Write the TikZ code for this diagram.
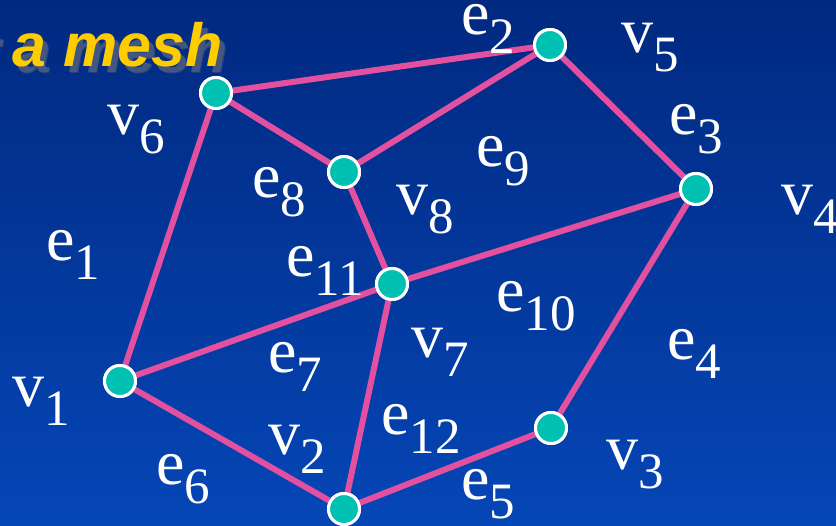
\documentclass[tikz,border=0pt]{standalone}
\usepackage{fontspec}
\setmainfont{Liberation Serif}
\newfontfamily\titlefont{Liberation Sans}
\definecolor{bgtop}{RGB}{1,41,128}
\definecolor{bgbot}{RGB}{5,70,182}
\definecolor{edgepink}{RGB}{228,80,160}
\definecolor{nodeteal}{RGB}{0,192,178}
\definecolor{titleyellow}{RGB}{255,204,0}
\newcommand\lbl[2]{\fontsize{64}{64}\selectfont #1\raisebox{-19pt}{\fontsize{51}{51}\selectfont #2}}
\begin{document}
\begin{tikzpicture}[x=1pt,y=-1pt,
  vert/.style={circle,fill=nodeteal,draw=white,line width=3pt,minimum size=31pt,inner sep=0pt},
  edge/.style={draw=edgepink,line width=6pt},
  lab/.style={anchor=base west,inner sep=0pt,text=white},
  ttl/.style={anchor=base west,inner sep=0pt,font=\titlefont\bfseries\itshape\fontsize{61}{61}\selectfont}]
\useasboundingbox (0,0) rectangle (836,526);
\shade[top color=bgtop,bottom color=bgbot] (0,0) rectangle (836,526);
% title with shadow
\node[ttl,text=gray!55!bgtop,opacity=0.45] (tshadow2) at (-22,74) {r a mesh};
\node[ttl,text=gray!65!bgtop,opacity=0.7] (tshadow) at (-23,73) {r a mesh};
\node[ttl,text=titleyellow] (title) at (-28,67) {r a mesh};
% vertices
\node[vert] (v6) at (216,93) {};
\node[vert] (v5) at (550,45) {};
\node[vert] (v8) at (344,172) {};
\node[vert] (v4) at (696,189) {};
\node[vert] (v7) at (392,284) {};
\node[vert] (v1) at (120,381) {};
\node[vert] (v3) at (551,428) {};
\node[vert] (v2) at (344,509) {};
% edges
\path[edge] (v6) -- (v5);
\path[edge] (v5) -- (v4);
\path[edge] (v6) -- (v8);
\path[edge] (v8) -- (v5);
\path[edge] (v6) -- (v1);
\path[edge] (v8) -- (v7);
\path[edge] (v7) -- (v4);
\path[edge] (v1) -- (v7);
\path[edge] (v1) -- (v2);
\path[edge] (v7) -- (v2);
\path[edge] (v2) -- (v3);
\path[edge] (v3) -- (v4);
% redraw vertices on top
\foreach \n in {v1,v2,v3,v4,v5,v6,v7,v8}{
  \node[vert] at (\n) {};
}
% labels
\node[lab] (l-e2) at (461,35) {\lbl{e}{2}};
\node[lab] (l-v5) at (621,53) {\lbl{v}{5}};
\node[lab] (l-e3) at (669,135) {\lbl{e}{3}};
\node[lab] (l-v4) at (781,215) {\lbl{v}{4}};
\node[lab] (l-v6) at (107,135) {\lbl{v}{6}};
\node[lab] (l-e8) at (252,198) {\lbl{e}{8}};
\node[lab] (l-v8) at (396,215) {\lbl{v}{8}};
\node[lab] (l-e9) at (476,167) {\lbl{e}{9}};
\node[lab] (l-e1) at (46,261) {\lbl{e}{1}};
\node[lab] (l-e11) at (286,277) {\lbl{e}{11}};
\node[lab] (l-e10) at (496,312) {\lbl{e}{10}};
\node[lab] (l-v7) at (411,358) {\lbl{v}{7}};
\node[lab] (l-e7) at (268,373) {\lbl{e}{7}};
\node[lab] (l-e4) at (667,360) {\lbl{e}{4}};
\node[lab] (l-v1) at (12,407) {\lbl{v}{1}};
\node[lab] (l-v2) at (268,455) {\lbl{v}{2}};
\node[lab] (l-e12) at (381,435) {\lbl{e}{12}};
\node[lab] (l-e6) at (156,485) {\lbl{e}{6}};
\node[lab] (l-e5) at (461,500) {\lbl{e}{5}};
\node[lab] (l-v3) at (606,470) {\lbl{v}{3}};
\end{tikzpicture}
\end{document}
